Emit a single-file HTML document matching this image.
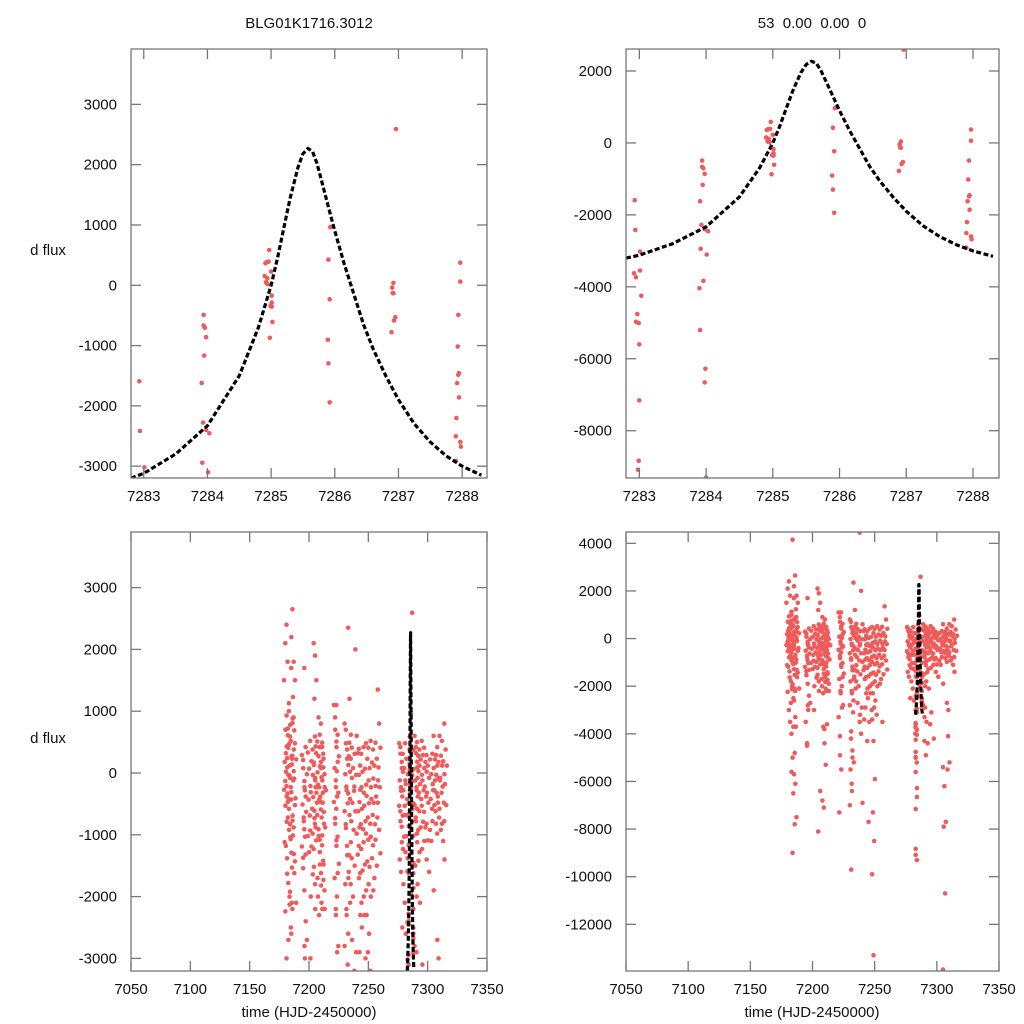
<!DOCTYPE html>
<html><head><meta charset="utf-8"><style>
html,body{margin:0;padding:0;background:#fff;overflow:hidden;width:1024px;height:1024px;}
svg{display:block;}
svg text{font-family:"Liberation Sans",sans-serif;font-size:15px;fill:#111;}
</style></head><body>
<svg id="chart" width="1024" height="1024" viewBox="0 0 1024 1024" xmlns="http://www.w3.org/2000/svg">
<rect width="1024" height="1024" fill="#fff"/>
<text x="309" y="28" text-anchor="middle">BLG01K1716.3012</text>
<text x="812" y="28" text-anchor="middle" xml:space="preserve">53  0.00  0.00  0</text>
<text x="48" y="255" text-anchor="middle">d flux</text>
<text x="48" y="743" text-anchor="middle">d flux</text>
<text x="309" y="1017" text-anchor="middle">time (HJD-2450000)</text>
<text x="812" y="1017" text-anchor="middle">time (HJD-2450000)</text>
</svg>
<script>
// zoomed-in data around the event
const zoomT = [7282.93,7282.94,7283.01,7282.92,7282.95,7283.01,7283.03,7282.95,7282.99,7282.97,7283.0,7283.0,7282.99,7282.98,
7283.94,7283.94,7283.96,7283.98,7283.95,7283.91,7283.93,7283.98,7284.03,7284.01,7283.92,7283.96,7283.9,7283.91,7283.99,7283.98,7284.0,
7284.97,7284.93,7284.96,7284.91,7285.0,7284.9,7284.94,7284.92,7284.93,7284.95,7285.01,7285.01,7284.99,7285.01,7285.02,7284.98,
7285.93,7285.9,7285.92,7285.89,7285.9,7285.92,
7286.96,7286.92,7286.9,7286.91,7286.92,7286.95,7286.93,7286.89,
7287.97,7287.97,7287.94,7287.93,7287.95,7287.94,7287.92,7287.95,7287.91,7287.9,7287.97,7287.98,7287.9];
const zoomV = [-1593,-2417,-3018,-3620,-3731,-3546,-4250,-4972,-5009,-4759,-5602,-7157,-8833,-9083,
-491,-667,-704,-861,-1167,-1620,-2278,-2398,-2454,-3102,-2944,-3833,-4037,-5204,-6278,-6657,-9300,
585,381,392,364,226,154,116,50,33,17,-171,-287,-342,-353,-607,-871,
965,425,-232,-905,-1296,-1942,
2592,39,-39,-127,-132,-530,-585,-778,
375,61,-491,-1015,-1456,-1484,-1622,-1859,-2201,-2504,-2598,-2675,-2912];
// model curve samples
const modelT = [7282.8,7283,7283.5,7284,7284.5,7284.8,7285,7285.1,7285.2,7285.3,7285.42,7285.5,7285.58,7285.65,7285.72,7285.8,7285.9,7286,7286.15,7286.3,7286.45,7286.6,7286.8,7287,7287.25,7287.5,7287.75,7288,7288.3];
const modelV = [-3200,-3120,-2800,-2330,-1500,-700,0,450,950,1450,1950,2180,2270,2220,2020,1700,1300,900,350,-150,-650,-1050,-1500,-1900,-2300,-2600,-2830,-3000,-3150];
// full season: nights and values per night
const nightT = [7179,7180,7181,7182,7183,7184,7185,7186,7187,7194,7195,7196,7199,7201,7203,7204,7205,7207,7208,7209,7210,7211,7212,7221,7222,7223,7230,7231,7233,7234,7236,7238,7241,7242,7244,7246,7248,7250,7252,7254,7256,7258,7276,7277,7279,7281,7289,7290,7291,7293,7295,7297,7299,7302,7304,7305,7307,7308,7310,7312,7314];
const nightV = [
[1500,700,430,180,20,-270,-530,-790,-1120],
[2100,930,610,320,90,-130,-380,-720,-1180,-1630,-2240],
[2400,720,470,240,-30,-210,-470,-920,-1380,-2700,-3000],
[1800,1130,780,410,120,-330,-580,-1040,-1780,-2130,-3500,-5600],
[1000,590,270,-40,-230,-420,-830,-1290,-2000,-2500,-4000],
[4150,2200,880,520,230,-80,-310,-690,-1070,-1530,-1920,-2600,-3300,-3700,-4800,-5000,-5700,-6100,-6500,-7800,-9000],
[1700,810,380,140,-120,-430,-770,-1310,-2100,-3700],
[2650,1800,1500,1230,690,280,30,-520,-1010,-1620,-2200,-7500],
[900,480,220,-90,-410,-880,-1430,-2100],
[290,80,-230,-510,-780,-1190,-1540,-2800,-3500,-4400],
[210,-130,-380,-720,-1030,-1370,-1900,-2400,-4500],
[1700,420,-20,-280,-630,-910,-1320,-2700,-3000],
[330,70,-210,-430,-690,-1020,-1280,-3000],
[520,190,-30,-310,-580,-930,-1190,-1640,-2000],
[380,130,-120,-390,-730,-980,-1520,-2200],
[2100,1900,1500,1200,430,170,-80,-320,-610,-880,-1230,-1800,-6400,-8100],
[590,320,10,-230,-480,-820,-1090,-1700],
[510,270,110,-190,-430,-680,-1020,-1480,-2000,-3700],
[900,420,80,-230,-470,-910,-1280,-1820,-2300,-4400,-6800,-7100],
[620,180,-120,-380,-720,-1080,-1620,-2200,-3800,-5300],
[800,490,230,-70,-320,-590,-1010,-1480,-2100,-3600],
[420,90,-230,-480,-820,-1170,-1730,-2200],
[310,-20,-280,-630,-880,-1420,-1900],
[1100,700,420,80,-230,-470,-820,-1180,-1700,-2300,-3300,-4900,-5500,-7300],
[900,510,180,-120,-380,-730,-1090,-1620,-2200,-2900,-4100],
[1100,620,270,30,-320,-580,-1030,-1470,-2000,-2800],
[800,480,230,-20,-280,-620,-890,-1330,-1800,-2300,-2800,-3900,-5000,-5500,-6400,-7000,-9700],
[700,380,130,-220,-490,-830,-1180,-1700,-2200,-3100,-4200,-4700,-5200,-6100],
[2350,1200,620,270,20,-330,-680,-1120,-1600,-2100,-2600],
[490,230,-80,-420,-780,-1330,-1800,-2700],
[410,80,-220,-480,-920,-1380,-2000,-3200],
[4450,2000,600,310,-30,-290,-620,-980,-1500,-2900,-3500,-4000,-6900],
[320,-30,-270,-620,-880,-1320,-1700,-2300,-3400],
[390,120,-230,-470,-830,-1180,-1620,-2100,-2900],
[310,20,-320,-580,-910,-1230,-1580,-2000,-2500,-3500,-4300,-7700],
[420,70,-190,-530,-780,-1120,-1480,-1900,-2300,-3000],
[480,230,-120,-370,-720,-980,-1430,-1800,-2300,-2900,-3400,-4300,-5900,-7300,-8500,-9900,-13300],
[410,80,-230,-490,-820,-1080,-1520,-2000,-2600,-3200],
[520,170,-90,-420,-680,-1030,-1380,-1900],
[380,120,-210,-480,-830,-1170,-1700,-3500],
[490,230,-120,-380,-720,-1080,-1500],
[1350,800,410,90,-230,-480,-920,-1300],
[480,310,80,-120,-290,-530,-780,-1120,-1400],
[420,180,20,-230,-380,-620,-870,-1230,-1600,-2500],
[310,80,-120,-280,-530,-690,-1030,-1280,-1800,-2100],
[480,230,-20,-180,-420,-680,-1020,-1380,-2600,-4000],
[600,320,90,-120,-280,-520,-780,-1120,-1500,-2000,-2800,-3300,-4900],
[420,180,30,-230,-380,-720,-980,-1420,-2900,-3500,-4300],
[500,280,120,-80,-320,-580,-920,-1280,-1800,-4400],
[380,220,-30,-180,-420,-620,-880,-1230,-2100,-3600],
[520,290,80,-120,-280,-530,-790,-1100,-3100],
[410,180,20,-220,-380,-630,-880,-1400,-4200],
[290,120,-80,-320,-480,-820,-1090,-1600],
[220,-20,-180,-420,-580,-920,-1100],
[310,80,-120,-280,-520,-780,-1900],
[600,220,-30,-280,-620,-5400,-6200,-7700,-7900,-10700,-13900],
[290,120,-80,-320,-480,-820,-2700,-3000],
[420,180,-120,-380,-720,-980,-4100,-5200,-5500],
[600,280,120,-80,-320,-580,-920],
[520,190,-20,-220,-480,-820,-1100,-1400],
[800,380,120,-180,-520,-780]];
const topLeftYTicks = [3000,2000,1000,0,-1000,-2000,-3000];
const topRightYTicks = [2000,0,-2000,-4000,-6000,-8000];
const botLeftYTicks = [3000,2000,1000,0,-1000,-2000,-3000];
const botRightYTicks = [4000,2000,0,-2000,-4000,-6000,-8000,-10000,-12000];
const zoomXTicks = [7283,7284,7285,7286,7287,7288];
const fullXTicks = [7050,7100,7150,7200,7250,7300,7350];

const NS='http://www.w3.org/2000/svg';
const svg=document.getElementById('chart');
function mk(tag,attrs,parent){const e=document.createElementNS(NS,tag);for(const k in attrs)e.setAttribute(k,attrs[k]);(parent||svg).appendChild(e);return e;}

const allT=[],allV=[];
nightT.forEach((t,i)=>{nightV[i].forEach((v,j)=>{allT.push(t+((j*7)%5)*0.55);allV.push(v);});});
zoomT.forEach((t,i)=>{allT.push(t);allV.push(zoomV[i]);});

function panel(id,x0,y0,x1,y1,xd,yd,xt,yt,ptsT,ptsV){
  const sx=t=>x0+(t-xd[0])/(xd[1]-xd[0])*(x1-x0);
  const sy=v=>y1-(v-yd[0])/(yd[1]-yd[0])*(y1-y0);
  const g=mk('g',{});
  
  
  const cp=mk('clipPath',{id:id+'-clip'},g);
  mk('rect',{x:x0,y:y0,width:x1-x0,height:y1-y0},cp);
  const pg=mk('g',{'clip-path':'url(#'+id+'-clip)'},g);
  
  
  const span=yd[1]-yd[0];
  ptsT.forEach((t,i)=>{
    const v=ptsV[i];
    if(v<yd[0]-span*0.01||v>yd[1]+span*0.01) return;
    const c=mk('circle',{cx:sx(t).toFixed(1),cy:sy(v).toFixed(1),r:2.3,fill:'#ef5b5b'},pg);
    
    
  });
  const d=modelT.map((t,i)=>(i?'L':'M')+sx(t).toFixed(1)+','+sy(modelV[i]).toFixed(1)).join(' ');
  const ln=mk('path',{d:d,fill:'none',stroke:'#000','stroke-width':3.2,'stroke-dasharray':'5,2.5','stroke-linejoin':'round'},pg);
  
  
  const fr=mk('rect',{x:x0,y:y0,width:x1-x0,height:y1-y0,fill:'none',stroke:'#777','stroke-width':1.3},g);
  
  
  xt.forEach(t=>{
    const x=sx(t);
    mk('line',{x1:x,y1:y1,x2:x,y2:y1-10,stroke:'#777','stroke-width':1.3},g);
    mk('line',{x1:x,y1:y0,x2:x,y2:y0+10,stroke:'#777','stroke-width':1.3},g);
    const tx=mk('text',{x:x,y:y1+23,'text-anchor':'middle'},g);tx.textContent=t;
    
    
  });
  yt.forEach(v=>{
    const y=sy(v);
    mk('line',{x1:x0,y1:y,x2:x0+10,y2:y,stroke:'#777','stroke-width':1.3},g);
    mk('line',{x1:x1,y1:y,x2:x1-10,y2:y,stroke:'#777','stroke-width':1.3},g);
    const tx=mk('text',{x:x0-14,y:y+5,'text-anchor':'end'},g);tx.textContent=v;
    
    
  });
}
panel('top-left',131,49,487,478,[7282.8,7288.39],[-3196,3918],zoomXTicks,topLeftYTicks,zoomT,zoomV);
panel('top-right',626,49,999,478,[7282.8,7288.39],[-9315,2612],zoomXTicks,topRightYTicks,zoomT,zoomV);
panel('bottom-left',131,532,487,971,[7050,7350],[-3204,3900],fullXTicks,botLeftYTicks,allT,allV);
panel('bottom-right',626,532,999,971,[7050,7350],[-13960,4475],fullXTicks,botRightYTicks,allT,allV);
</script>
</body></html>
